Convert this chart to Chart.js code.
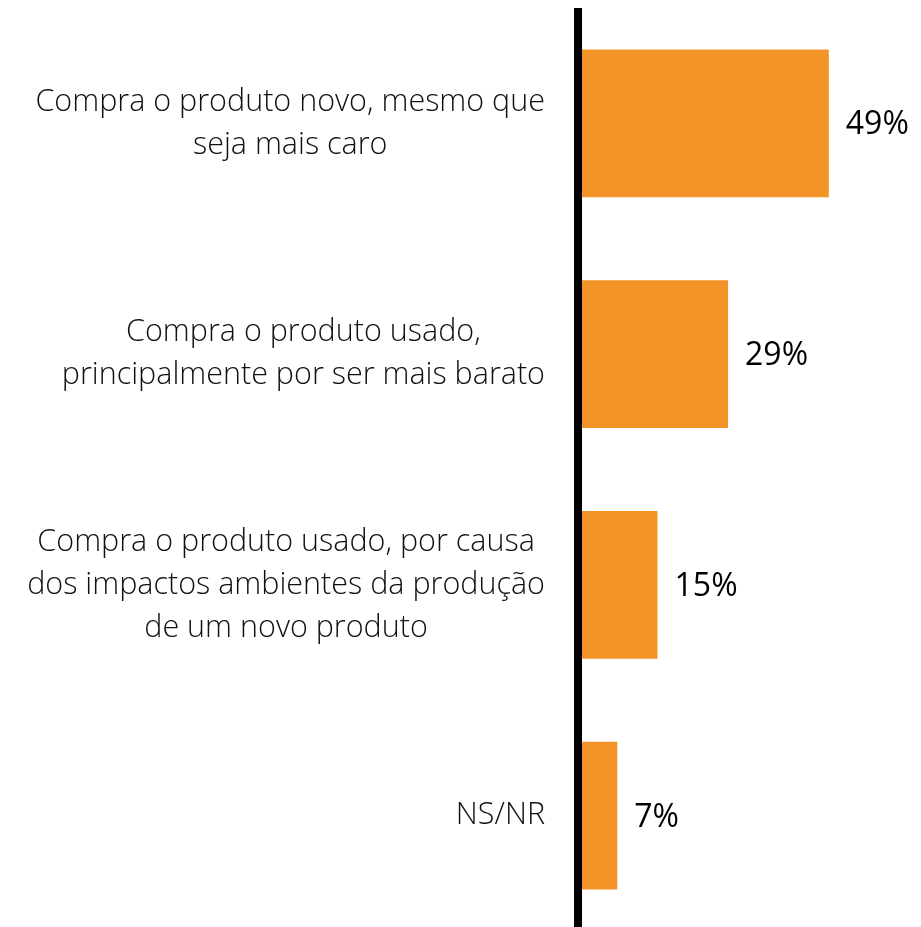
<!DOCTYPE html>
<html>
<head>
<meta charset="utf-8">
<script src="https://cdn.jsdelivr.net/npm/chart.js@4/dist/chart.umd.min.js"></script>
<style>
  html, body { margin: 0; padding: 0; background: #fff; overflow: hidden; }
  #wrap { position: relative; width: 921px; height: 931px; }
</style>
</head>
<body>
<div id="wrap"><canvas id="chart"></canvas></div>
<script>
const categories = [
    ['Compra o produto novo, mesmo que', 'seja mais caro'],
    ['Compra o produto usado,', 'principalmente por ser mais barato'],
    ['Compra o produto usado, por causa', 'dos impactos ambientes da produção', 'de um novo produto'],
    ['NS/NR']
];
const values = [49, 29, 15, 7];
const valueLabels = ['49%', '29%', '15%', '7%'];

const labelFont = '300 30.5px "Open Sans", "Noto Sans", sans-serif';
const valueFont = '400 32px "Open Sans", "Noto Sans", sans-serif';

// axis line + category labels (centred block, right edge near axis) + value labels
const decorations = {
    id: 'decorations',
    afterDatasetsDraw(chart) {
        const ctx = chart.ctx;
        const area = chart.chartArea;
        const yScale = chart.scales.y;

        ctx.save();
        ctx.fillStyle = '#000';
        ctx.fillRect(area.left - 8, area.top, 8, area.bottom - area.top);

        ctx.font = labelFont;
        ctx.fillStyle = '#111';
        ctx.textAlign = 'center';
        ctx.textBaseline = 'middle';
        const lineH = 43;
        categories.forEach((lines, i) => {
            const cy = yScale.getPixelForValue(i);
            const maxW = Math.max(...lines.map(l => ctx.measureText(l).width));
            const cx = area.left - 37 - maxW / 2;
            const y0 = cy - (lines.length - 1) * lineH / 2;
            lines.forEach((l, j) => ctx.fillText(l, cx, y0 + j * lineH));
        });

        ctx.font = valueFont;
        ctx.fillStyle = '#000';
        ctx.textAlign = 'left';
        const meta = chart.getDatasetMeta(0);
        meta.data.forEach((bar, i) => {
            ctx.fillText(valueLabels[i], bar.x + 17, bar.y + 2);
        });
        ctx.restore();
    }
};

new Chart(document.getElementById('chart'), {
    type: 'bar',
    data: {
        labels: categories.map(c => c.join(' ')),
        datasets: [{
            data: values,
            backgroundColor: '#f39429',
            barPercentage: 0.64,
            categoryPercentage: 1
        }]
    },
    options: {
        indexAxis: 'y',
        responsive: true,
        maintainAspectRatio: false,
        animation: false,
        layout: { padding: { top: 8, right: 0, bottom: 0, left: 0 } },
        plugins: { legend: { display: false }, tooltip: { enabled: false } },
        scales: {
            x: { display: false, min: 0, max: 67.3 },
            y: {
                ticks: { display: false },
                grid: { display: false },
                border: { display: false },
                afterFit(scale) { scale.width = 582; }
            }
        }
    },
    plugins: [decorations]
});
</script>
</body>
</html>
